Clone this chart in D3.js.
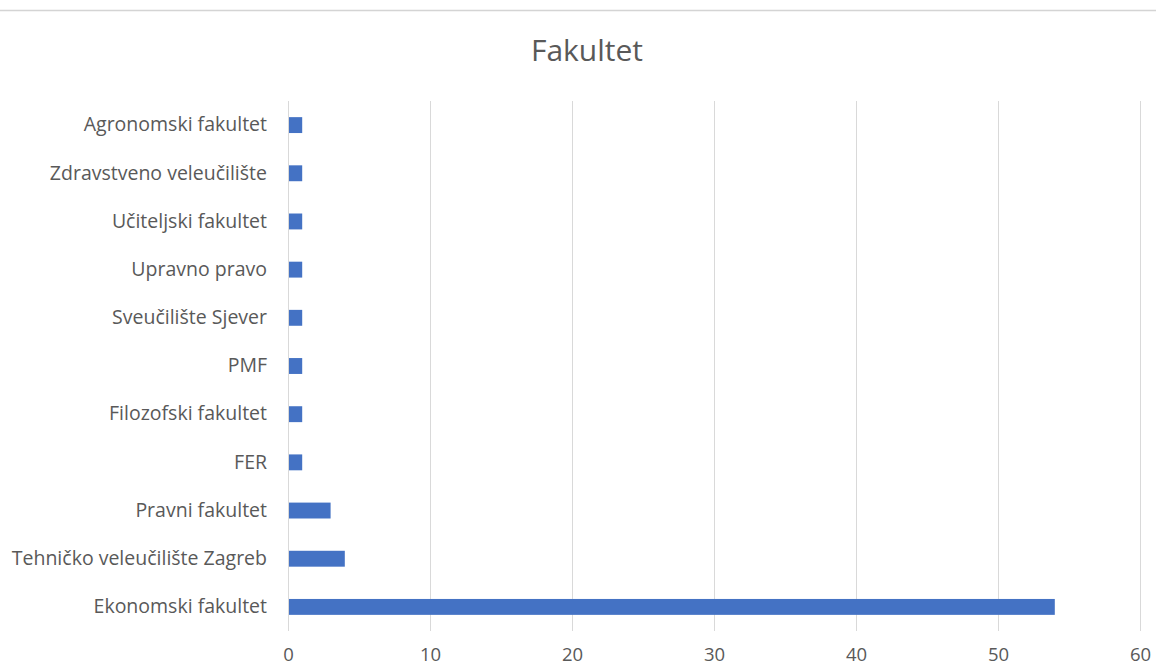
<!DOCTYPE html>
<html>
<head>
<meta charset="utf-8">
<script src="https://cdn.jsdelivr.net/npm/d3@7"></script>
<style>
  body { margin: 0; background: #fff; }
  svg { display: block; font-family: "Open Sans", "Noto Sans", sans-serif; }
</style>
</head>
<body>
<svg id="chart"></svg>
<script>
const WIDTH = 1156;
const HEIGHT = 668;

// data, top to bottom as shown
const categories = [
  "Agronomski fakultet",
  "Zdravstveno veleučilište",
  "Učiteljski fakultet",
  "Upravno pravo",
  "Sveučilište Sjever",
  "PMF",
  "Filozofski fakultet",
  "FER",
  "Pravni fakultet",
  "Tehničko veleučilište Zagreb",
  "Ekonomski fakultet"
];
const values = [1, 1, 1, 1, 1, 1, 1, 1, 3, 4, 54];
const xTicks = [0, 10, 20, 30, 40, 50, 60];

const margin = { top: 101, right: 16, bottom: 37, left: 288 };

const svg = d3.select("#chart").attr("width", WIDTH).attr("height", HEIGHT);

// thin top border
svg.append("line")
  .attr("x1", 0).attr("x2", WIDTH)
  .attr("y1", 10.5).attr("y2", 10.5)
  .attr("stroke", "#d4d4d4")
  .attr("stroke-width", 1.5);

const x = d3.scaleLinear().domain([0, 60]).range([margin.left, 1140]);
const y = d3.scaleBand()
  .domain(categories)
  .range([margin.top, HEIGHT - margin.bottom])
  .paddingInner(0.67)
  .paddingOuter(0.335);

// title
svg.append("text")
  .attr("x", 587)
  .attr("y", 61)
  .attr("text-anchor", "middle")
  .attr("fill", "#595959")
  .style("font-size", "30px")
  .text("Fakultet");

// gridlines
const grid = svg.append("g");
grid.selectAll("line")
  .data(xTicks)
  .enter()
  .append("line")
  .attr("x1", d => Math.round(x(d)) + 0.5)
  .attr("x2", d => Math.round(x(d)) + 0.5)
  .attr("y1", margin.top)
  .attr("y2", HEIGHT - margin.bottom)
  .attr("stroke", "#d9d9d9")
  .attr("stroke-width", 1);

// bars
svg.append("g")
  .selectAll("rect")
  .data(values)
  .enter()
  .append("rect")
  .attr("x", x(0) + 1)
  .attr("y", (d, i) => y(categories[i]))
  .attr("width", d => x(d) - x(0) - 1)
  .attr("height", y.bandwidth())
  .attr("fill", "#4472c4");

// x axis labels (kept just inside the bottom edge)
const xAxis = svg.append("g")
  .attr("transform", `translate(0,${HEIGHT - margin.bottom})`)
  .call(d3.axisBottom(x).tickValues(xTicks).tickSize(0).tickPadding(17));
xAxis.select(".domain").remove();
xAxis.selectAll("text")
  .attr("fill", "#595959")
  .style("font-size", "18.5px")
  .style("font-family", "\"Open Sans\", sans-serif");

// y axis labels
const yAxis = svg.append("g")
  .attr("transform", `translate(${margin.left},0)`)
  .call(d3.axisLeft(y).tickSize(0).tickPadding(21));
yAxis.select(".domain").remove();
yAxis.selectAll("text")
  .attr("fill", "#595959")
  .style("font-size", "19.5px")
  .style("font-family", "\"Open Sans\", sans-serif");
</script>
</body>
</html>
